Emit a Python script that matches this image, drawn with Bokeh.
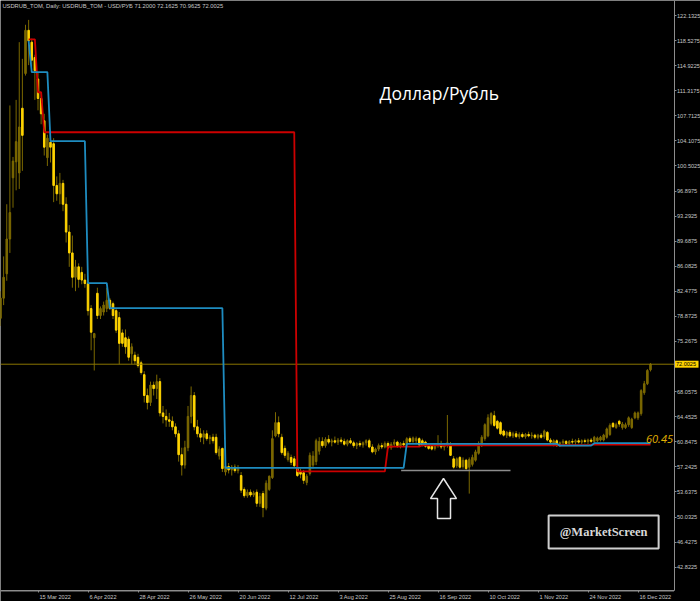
from bokeh.plotting import figure
from bokeh.models import Range1d, FixedTicker, LinearAxis
from bokeh.embed import file_html
from bokeh.resources import INLINE
from bokeh.core.properties import value

# ---------------- data (USDRUB_TOM daily, bar index 0 = 24 Feb 2022) ----------------
opens = [78.6, 81.5, 85.0, 90.0, 98.8, 101.1, 99.5, 108.8, 113.8, 120.0,
         118.3, 116.1, 113.0, 110.2, 107.0, 101.7, 103.9, 103.7, 97.7, 96.5,
         98.0, 95.0, 91.0, 88.0, 84.5, 86.0, 85.2, 84.1, 83.6, 80.0,
         75.8, 82.2, 79.0, 79.5, 80.0, 81.2, 80.7, 79.7, 78.7, 76.5,
         75.8, 75.6, 73.5, 73.3, 73.0, 72.2, 70.5, 67.5, 66.5, 69.0,
         68.5, 69.5, 65.0, 64.5, 64.0, 63.8, 63.0, 62.0, 59.0, 57.5,
         60.0, 64.5, 67.5, 63.0, 62.0, 61.5, 62.0, 61.3, 61.5, 61.5,
         58.8, 59.9, 56.5, 57.3, 56.8, 57.2, 56.7, 56.0, 54.0, 53.1,
         53.6, 53.2, 53.6, 52.0, 53.4, 51.3, 54.0, 55.7, 61.7, 63.6,
         61.5, 59.9, 58.3, 58.6, 58.4, 57.0, 56.5, 56.4, 55.0, 56.3,
         57.5, 58.0, 59.5, 60.9, 60.3, 61.2, 60.8, 61.0, 60.8, 61.1,
         60.9, 60.5, 61.0, 60.7, 60.3, 60.6, 60.4, 60.7, 61.0, 60.1,
         59.4, 59.8, 60.3, 60.1, 60.6, 60.0, 60.5, 60.8, 60.3, 60.6,
         60.4, 61.3, 60.9, 61.0, 61.3, 61.0, 60.8, 60.3, 60.2, 59.9,
         60.3, 60.6, 60.1, 60.4, 60.3, 58.4, 57.4, 58.6, 57.3, 58.2,
         57.2, 57.6, 58.2, 59.2, 60.3, 61.3, 61.7, 63.5, 64.6, 63.8,
         63.6, 62.4, 61.8, 62.2, 61.7, 62.0, 61.6, 61.9, 61.6, 61.9,
         61.7, 61.8, 61.5, 61.8, 61.6, 62.2, 61.1, 60.5, 61.0, 60.3,
         60.7, 60.9, 60.6, 60.9, 60.8, 61.0, 60.8, 61.0, 60.9, 61.1,
         60.9, 61.0, 61.1, 61.1, 61.5, 61.9, 63.5, 62.9, 63.8, 62.9,
         62.9, 63.3, 62.9, 64.3, 64.3, 64.9, 67.9, 69.2, 71.2]
highs = [82.5, 87.5, 95.0, 109.2, 101.8, 110.0, 118.3, 115.9, 120.8, 121.5,
         118.8, 116.5, 114.0, 111.0, 108.0, 105.0, 104.3, 104.5, 99.0, 99.5,
         98.5, 96.0, 92.0, 90.5, 87.0, 86.5, 86.0, 85.0, 84.0, 80.5,
         76.5, 83.0, 80.3, 81.0, 83.0, 81.5, 81.0, 80.0, 79.5, 77.0,
         77.0, 76.0, 75.0, 73.8, 73.5, 72.5, 71.0, 68.5, 69.5, 69.5,
         70.5, 70.0, 66.0, 65.5, 65.0, 64.5, 63.5, 62.5, 60.0, 61.0,
         66.0, 68.8, 68.0, 64.0, 62.8, 62.5, 62.5, 61.8, 62.0, 62.0,
         60.2, 60.0, 58.0, 57.8, 57.5, 57.6, 57.5, 56.5, 54.3, 54.0,
         54.0, 53.8, 54.0, 53.5, 53.8, 55.3, 56.0, 62.5, 65.1, 64.5,
         62.0, 60.3, 59.5, 59.0, 58.8, 57.5, 57.0, 56.8, 56.2, 59.3,
         59.5, 61.3, 61.5, 61.5, 61.5, 61.8, 61.3, 61.6, 61.4, 61.5,
         61.3, 61.2, 61.4, 61.0, 60.8, 61.0, 60.9, 61.2, 61.3, 60.5,
         60.0, 60.6, 60.7, 60.9, 60.9, 60.8, 61.2, 61.0, 60.8, 61.0,
         61.5, 61.6, 61.6, 61.6, 61.5, 61.3, 61.0, 60.6, 60.4, 60.5,
         61.8, 61.0, 60.6, 64.7, 60.8, 58.8, 58.6, 58.8, 58.6, 58.4,
         58.6, 59.0, 59.7, 60.9, 61.8, 63.5, 64.8, 65.1, 65.3, 64.0,
         63.8, 62.6, 62.4, 62.5, 62.3, 62.4, 62.2, 62.2, 62.1, 62.3,
         62.2, 62.0, 62.0, 62.1, 62.6, 62.4, 61.4, 61.2, 61.2, 60.9,
         61.2, 61.1, 61.1, 61.3, 61.2, 61.4, 61.2, 61.3, 61.3, 61.4,
         61.7, 61.6, 61.7, 62.0, 62.9, 63.5, 63.7, 63.6, 64.0, 63.7,
         63.6, 64.5, 64.3, 65.2, 65.2, 68.4, 69.6, 71.3, 72.1625]
lows = [77.5, 80.5, 84.0, 88.0, 94.5, 97.0, 97.2, 99.8, 113.5, 115.0,
        114.8, 110.0, 108.5, 106.5, 102.0, 100.5, 101.0, 95.3, 95.5, 95.0,
        94.0, 89.5, 86.0, 83.0, 82.5, 83.0, 83.5, 83.0, 79.0, 74.0,
        71.1, 78.5, 78.5, 79.0, 79.5, 79.8, 78.5, 76.5, 72.0, 74.5,
        73.5, 72.5, 72.0, 72.0, 71.5, 70.5, 66.5, 65.5, 66.0, 67.5,
        67.0, 64.5, 63.5, 63.0, 63.0, 62.5, 61.5, 58.0, 56.0, 57.0,
        59.5, 63.5, 62.5, 61.5, 60.8, 60.5, 61.0, 60.5, 60.6, 59.0,
        58.3, 56.5, 56.0, 56.3, 56.0, 56.4, 56.3, 53.5, 52.8, 52.8,
        52.9, 52.9, 51.5, 51.5, 50.0, 51.0, 53.8, 55.5, 61.5, 61.5,
        59.0, 58.5, 58.0, 57.5, 57.2, 55.8, 55.6, 54.8, 54.6, 56.0,
        57.0, 57.5, 59.0, 60.0, 60.0, 60.5, 60.2, 60.6, 60.4, 60.6,
        60.3, 60.2, 60.5, 60.0, 59.8, 60.1, 60.0, 60.3, 59.9, 59.2,
        59.0, 59.5, 59.8, 59.9, 59.8, 59.7, 60.2, 60.0, 59.9, 60.2,
        60.2, 60.6, 60.7, 60.6, 60.2, 60.2, 60.0, 59.7, 59.6, 59.6,
        60.0, 59.8, 59.6, 60.0, 58.8, 57.0, 57.1, 57.0, 57.0, 56.8,
        53.4, 57.3, 58.0, 59.0, 60.1, 61.0, 61.5, 63.2, 63.0, 62.6,
        61.8, 61.6, 61.4, 61.5, 61.4, 61.4, 61.3, 61.4, 61.3, 61.5,
        61.3, 61.2, 61.2, 61.3, 61.3, 60.9, 60.5, 60.2, 60.1, 60.1,
        60.4, 60.4, 60.4, 60.5, 60.4, 60.6, 60.5, 60.6, 60.5, 60.7,
        60.7, 60.8, 60.9, 60.9, 61.3, 61.7, 62.9, 62.7, 63.0, 62.6,
        62.7, 63.0, 62.7, 64.1, 64.0, 64.6, 67.6, 69.0, 70.9625]
closes = [81.5, 84.5, 90.0, 93.8, 101.2, 104.0, 106.1, 104.9, 120.0, 118.5,
          115.7, 114.2, 110.2, 108.0, 103.2, 104.5, 103.2, 97.7, 96.5, 98.0,
          95.0, 91.0, 88.0, 84.5, 86.0, 84.2, 84.1, 83.6, 79.7, 76.6,
          76.4, 79.0, 80.0, 80.5, 81.2, 80.0, 79.0, 76.9, 75.0, 75.0,
          74.5, 73.0, 74.5, 72.5, 71.8, 70.8, 67.5, 66.5, 69.0, 68.5,
          69.5, 65.0, 64.5, 64.0, 63.8, 63.0, 62.0, 59.0, 57.5, 60.0,
          64.5, 67.5, 63.0, 62.0, 61.5, 62.0, 61.3, 61.5, 61.0, 59.3,
          59.8, 57.0, 57.3, 56.8, 57.2, 56.7, 57.0, 53.9, 53.1, 53.6,
          53.2, 53.5, 52.0, 53.0, 51.4, 54.9, 55.9, 61.3, 63.6, 62.0,
          59.3, 58.9, 59.2, 57.9, 57.4, 56.0, 56.2, 55.3, 55.9, 58.9,
          58.8, 61.0, 60.9, 60.3, 61.2, 60.8, 61.0, 60.8, 61.1, 60.9,
          60.5, 61.0, 60.7, 60.3, 60.6, 60.4, 60.7, 61.0, 60.1, 59.4,
          59.8, 60.3, 60.1, 60.6, 60.0, 60.5, 60.8, 60.3, 60.6, 60.4,
          61.3, 60.9, 61.4, 61.3, 60.4, 60.3, 60.2, 59.9, 59.8, 60.3,
          60.6, 60.1, 60.4, 60.7, 58.9, 57.2, 58.4, 57.2, 58.2, 57.0,
          58.3, 58.6, 59.4, 60.6, 61.5, 63.3, 64.3, 64.9, 63.2, 62.8,
          62.0, 61.8, 62.2, 61.7, 62.0, 61.6, 61.9, 61.6, 61.9, 61.7,
          61.8, 61.5, 61.8, 61.5, 62.4, 61.1, 60.8, 61.0, 60.3, 60.7,
          60.9, 60.6, 60.9, 60.8, 61.0, 60.8, 61.0, 60.9, 61.1, 60.9,
          61.5, 61.4, 61.5, 61.8, 62.7, 63.2, 63.0, 63.3, 63.4, 63.4,
          63.3, 64.3, 64.1, 65.0, 65.0, 68.2, 69.2, 71.1, 72.0025]

# indicator step lines (bar index, level)
red_x = [9, 11, 12, 13, 14, 94, 95, 123, 124, 134, 135, 188, 189, 208]
red_y = [118.7, 118.7, 111.1, 111.1, 105.35, 105.35, 56.6, 56.6, 60.15, 60.15, 60.35, 60.35, 60.45, 60.45]
cyan_x = [9, 10, 15, 16, 27, 28, 34, 35, 71, 72, 129, 130, 178, 179, 189, 190, 208]
cyan_y = [118.5, 114.0, 114.0, 104.06, 104.06, 83.65, 83.65, 80.06, 80.06, 57.11, 57.11, 60.56, 60.56, 60.3, 60.3, 60.65, 60.65]

# hand-drawn support line
support_x = [128.2, 163.2]
support_y = [56.72, 56.72]

last_price = 72.0025
level_label = "60.45"

x_tick_bars = [12, 28, 44, 60, 76, 92, 108, 124, 140, 156, 172, 188, 204]
x_tick_labels = ["15 Mar 2022", "6 Apr 2022", "28 Apr 2022", "26 May 2022",
                 "20 Jun 2022", "12 Jul 2022", "3 Aug 2022", "25 Aug 2022", "16 Sep 2022",
                 "10 Oct 2022", "1 Nov 2022", "24 Nov 2022", "16 Dec 2022"]
y_ticks = [42.8225, 46.4275, 50.0325, 53.6375, 57.2425, 60.8475, 64.4525, 68.0575,
           75.2675, 78.8725, 82.4775, 86.0825, 89.6875, 93.2925, 96.8975, 100.5025,
           104.1075, 107.7125, 111.3175, 114.9225, 118.5275, 122.1325]
y_tick_labels = ["42.8225", "46.4275", "50.0325", "53.6375", "57.2425", "60.8475", "64.4525",
                 "68.0575", "75.2675", "78.8725", "82.4775", "86.0825", "89.6875", "93.2925",
                 "96.8975", "100.5025", "104.1075", "107.7125", "111.3175", "114.9225",
                 "118.5275", "122.1325"]

header = "USDRUB_TOM, Daily:  USDRUB_TOM - USD/РУБ  71.2000 72.1625 70.9625 72.0025"

# ---------------- figure ----------------
BULL = "#7b6800"
BEAR = "#ffd400"
WICK = "#7b6800"
AXIS = "#8c8c8c"
LBL = "#c8c8c8"
FS = 5.6                    # axis font size, px
PX_PER_BAR = 3.125
X_END, Y_END = 224.0, 37.889   # frame spans the whole canvas
AX_X, AX_Y = 215.52, 39.399    # where the price / time axes sit (on pixel centres)

p = figure(width=700, height=601, output_backend="svg", toolbar_location=None,
           x_range=Range1d(0.0, X_END), y_range=Range1d(Y_END, 124.289),
           x_axis_location=None, y_axis_location=None, min_border=0,
           background_fill_color="black", border_fill_color="black",
           outline_line_color=None)
p.grid.visible = False

idx = list(range(len(closes)))
tops = [max(o, c) for o, c in zip(opens, closes)]
bots = [min(o, c) for o, c in zip(opens, closes)]
cols = [BULL if c >= o else BEAR for o, c in zip(opens, closes)]

p.segment(x0=idx, y0=lows, x1=idx, y1=highs, line_color=WICK, line_width=1)
p.vbar(x=idx, width=0.5, top=tops, bottom=bots, fill_color=cols, line_color=cols, line_width=1)

# chart border along the time axis
p.segment(x0=[0.0], x1=[AX_X], y0=[AX_Y], y1=[AX_Y], line_color=AXIS, line_width=1)

# last-price line and price tag on the axis
p.segment(x0=[0.0], x1=[AX_X], y0=[last_price], y1=[last_price], line_color="#8a7400", line_width=1)
p.rect(x=[AX_X + 4.0], y=[last_price], width=7.7, height=1.0,
       fill_color="#ffd400", line_color=None)
p.text(x=[AX_X + 0.6], y=[last_price], text=[f"{last_price:.4f}"],
       text_font=value("Liberation Sans"), text_font_size=f"{FS}px", text_color="black",
       text_align="left", text_baseline="middle")

p.line(support_x, support_y, line_color="#8c8c8c", line_width=1.5)
p.line(red_x, red_y, line_color="#cc0000", line_width=1.8)
p.line(cyan_x, cyan_y, line_color="#1e8cc0", line_width=1.8)

# arrow
p.patch([141.76, 145.92, 144.0, 144.0, 139.84, 139.84, 137.6],
        [55.57, 52.69, 52.69, 49.82, 49.82, 52.69, 52.69],
        fill_color="black", line_color="#e6e6e6", line_width=1.5)

# watermark
p.quad(left=[175.4], right=[210.6], top=[50.25], bottom=[45.51],
       fill_color="black", line_color="#cfcfcf", line_width=2)
p.text(x=[193.0], y=[47.88], text=["@MarketScreen"], text_font=value("Liberation Serif"),
       text_font_style="bold", text_font_size="12.5px", text_color="#d8d8d8",
       text_align="center", text_baseline="middle")

p.text(x=[121.3], y=[110.92], text=["Доллар/Рубль"], text_font=value("Open Sans"),
       text_font_size="17.5px", text_color="white", text_align="left",
       text_baseline="alphabetic")
p.text(x=[215.2], y=[61.32], text=[level_label], text_font=value("Open Sans"),
       text_font_style="italic", text_font_size="11px", text_color="#e0b000",
       text_align="right", text_baseline="alphabetic")
p.text(x=[0.6], y=[124.0], text=[header], text_font=value("Liberation Sans"),
       text_font_size="5.8px", text_color=LBL, text_align="left", text_baseline="top")

# x labels are left-aligned at their tick (MetaTrader style): label centre shifted right
CW = {" ": 278, ".": 278, "F": 611, "M": 833, "A": 667, "J": 500, "S": 667, "O": 778,
      "N": 722, "D": 722, "a": 556, "b": 556, "c": 500, "e": 556, "g": 556, "l": 222,
      "n": 556, "o": 556, "p": 556, "r": 333, "t": 278, "u": 556, "v": 500, "y": 500}
def text_w(s, size):
    return sum(CW.get(ch, 556) for ch in s) * size / 1000.0

label_pos = [round(t + (1.5 + text_w(s, FS) / 2) / PX_PER_BAR, 3)
             for t, s in zip(x_tick_bars, x_tick_labels)]

xa = LinearAxis(fixed_location=AX_Y, bounds=(0.0, AX_X),
                ticker=FixedTicker(ticks=label_pos, minor_ticks=x_tick_bars))
xa.major_label_overrides = {pos: s for pos, s in zip(label_pos, x_tick_labels)}
xa.major_tick_line_color = None
xa.major_tick_in = 0
xa.major_tick_out = 1
xa.minor_tick_line_color = AXIS
xa.minor_tick_in = 0
xa.minor_tick_out = 2
xa.major_label_standoff = 1
p.add_layout(xa, "below")

ya = LinearAxis(fixed_location=AX_X, bounds=(AX_Y, 124.289),
                ticker=FixedTicker(ticks=y_ticks))
ya.major_label_overrides = {t: s for t, s in zip(y_ticks, y_tick_labels)}
ya.major_tick_line_color = AXIS
ya.minor_tick_line_color = None
ya.major_tick_in = 0
ya.major_tick_out = 2
ya.major_label_standoff = 1
p.add_layout(ya, "right")

for ax in (xa, ya):
    ax.axis_line_color = AXIS
    ax.axis_line_width = 1
    ax.major_label_text_color = LBL
    ax.major_label_text_font = "Liberation Sans"
    ax.major_label_text_font_size = f"{FS}px"

open("out.html", "w").write(file_html(p, INLINE))
